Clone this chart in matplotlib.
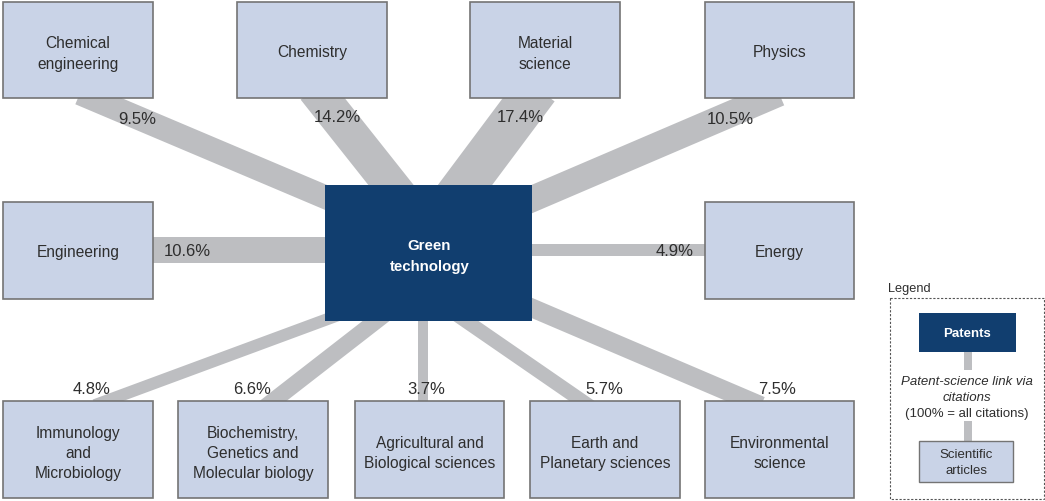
import numpy as np
import matplotlib
matplotlib.use("Agg")
import matplotlib.pyplot as plt
from matplotlib.patches import Rectangle, Polygon

plt.rcParams['font.family'] = ['Liberation Sans', 'DejaVu Sans']

# scientific fields cited by green technology patents (share of citations, %)
fields = ["Chemical\nengineering", "Chemistry", "Material\nscience", "Physics",
          "Engineering", "Energy",
          "Immunology\nand\nMicrobiology", "Biochemistry,\nGenetics and\nMolecular biology",
          "Agricultural and\nBiological sciences", "Earth and\nPlanetary sciences",
          "Environmental\nscience"]
shares = [9.5, 14.2, 17.4, 10.5, 10.6, 4.9, 4.8, 6.6, 3.7, 5.7, 7.5]
center_label = "Green\ntechnology"

# layout, in pixels (y grows downwards)
boxes = [(3, 3, 153, 99), (237, 3, 387, 99), (470, 3, 620, 99), (705, 3, 854, 99),
         (3, 203, 153, 300), (705, 203, 854, 300),
         (3, 402, 153, 499), (178, 402, 328, 499), (355, 402, 504, 499),
         (530, 402, 680, 499), (705, 402, 854, 499)]
center_box = (325, 186, 532, 322)
band_from = [(91, 99), (322, 99), (530, 99), (768, 99), (153, 251), (705, 251),
             (106, 402), (273, 402), (423, 402), (582, 402), (750, 402)]
band_to = [(325, 198), (391, 186), (465, 186), (532, 200), (325, 251), (532, 251),
           (325, 321), (376, 322), (423, 322), (466, 322), (532, 309)]
label_pos = [(137, 119), (337, 118), (520, 118), (730, 119), (187, 252), (675, 252),
             (92, 390), (252, 390), (426, 390), (604, 390), (777, 390)]
px_per_pct = 2.5

box_fill = "#c9d3e7"
box_edge = "#747474"
dark_blue = "#113e6f"
band_col = "#bdbec1"
txt_col = "#2e2e2e"


def band(p0, p1, width, ext0=12, ext1=30):
    p0 = np.array(p0, float)
    p1 = np.array(p1, float)
    d = (p1 - p0) / np.linalg.norm(p1 - p0)
    n = np.array([-d[1], d[0]]) * width / 2
    a = p0 - d * ext0
    b = p1 + d * ext1
    return Polygon([a + n, b + n, b - n, a - n], closed=True,
                   facecolor=band_col, edgecolor="none", zorder=1)


fig = plt.figure(figsize=(10.45, 5.02), dpi=100)
ax = fig.add_axes([0, 0, 1, 1])
ax.set_xlim(0, 1045)
ax.set_ylim(502, 0)
ax.axis("off")

for i in range(len(fields)):
    ax.add_patch(band(band_from[i], band_to[i], shares[i] * px_per_pct))
    x0, y0, x1, y1 = boxes[i]
    ax.add_patch(Rectangle((x0, y0), x1 - x0, y1 - y0, facecolor=box_fill,
                           edgecolor=box_edge, lw=1.2, zorder=2))
    dy = 3 if "\n" in fields[i] else 1.5
    ax.text((x0 + x1) / 2, (y0 + y1) / 2 + dy, fields[i], ha="center", va="center",
            fontsize=11.2, color=txt_col, linespacing=1.45, zorder=3)
    ax.text(label_pos[i][0], label_pos[i][1], "%.1f%%" % shares[i], ha="center",
            va="center", fontsize=12, color=txt_col, zorder=3)

x0, y0, x1, y1 = center_box
ax.add_patch(Rectangle((x0, y0), x1 - x0, y1 - y0, facecolor=dark_blue,
                       edgecolor="none", zorder=2))
ax.text((x0 + x1) / 2 + 1, (y0 + y1) / 2 + 2.5, center_label, ha="center", va="center",
        fontsize=10.8, fontweight="bold", color="white", linespacing=1.55, zorder=3)

# legend
ax.text(888, 289, "Legend", ha="left", va="center", fontsize=9.2, color=txt_col)
ax.add_patch(Rectangle((890, 299), 154, 201, facecolor="none", edgecolor="#555555",
                       lw=0.8, linestyle=(0, (2, 1.5))))
ax.add_patch(Rectangle((919, 314), 97, 39, facecolor=dark_blue, edgecolor="none"))
ax.text(967.5, 334, "Patents", ha="center", va="center", fontsize=9.5,
        fontweight="bold", color="white")
ax.add_patch(Rectangle((964, 353), 8, 18, facecolor=band_col, edgecolor="none"))
ax.text(967, 382, "Patent-science link via", ha="center", va="center", fontsize=9.5,
        style="italic", color=txt_col)
ax.text(967, 398, "citations", ha="center", va="center", fontsize=9.5,
        style="italic", color=txt_col)
ax.text(967, 414, "(100% = all citations)", ha="center", va="center", fontsize=9.5,
        color=txt_col)
ax.add_patch(Rectangle((964, 422), 8, 20, facecolor=band_col, edgecolor="none"))
ax.add_patch(Rectangle((919, 442), 94, 41, facecolor=box_fill, edgecolor=box_edge, lw=1.0))
ax.text(966, 463, "Scientific\narticles", ha="center", va="center", fontsize=9.5,
        color=txt_col, linespacing=1.35)

fig.savefig("out.png", dpi=100)
